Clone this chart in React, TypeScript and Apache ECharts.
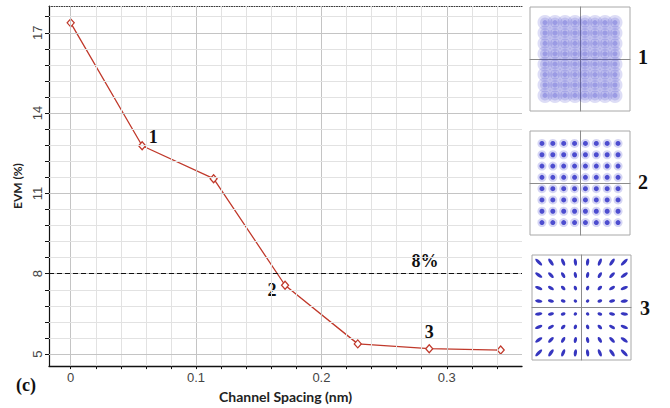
import React, { useEffect, useRef } from 'react';
import * as echarts from 'echarts';

// ---- data ----
const channelSpacing = [0, 0.057, 0.114, 0.171, 0.229, 0.286, 0.343];
const evmPercent = [17.37, 12.78, 11.55, 7.57, 5.38, 5.2, 5.15];
const pointTags = ['', '1', '', '2', '', '3', ''];
const xMajorTicks = [0, 0.1, 0.2, 0.3];
const xMinorTicks = [0, 0.02, 0.04, 0.06, 0.08, 0.1, 0.12, 0.14, 0.16, 0.18, 0.2, 0.22, 0.24, 0.26, 0.28, 0.3, 0.32, 0.34];
const yMajorTicks = [5, 8, 11, 14, 17];
const yMinorTicks = [5, 5.6, 6.2, 6.8, 7.4, 8, 8.6, 9.2, 9.8, 10.4, 11, 11.6, 12.2, 12.8, 13.4, 14, 14.6, 15.2, 15.8, 16.4, 17, 17.6];
const thresholdEvm = 8;
const thresholdLabel = '8%';
const qamLevels = [-7, -5, -3, -1, 1, 3, 5, 7];
const constellationTags = ['1', '2', '3'];

// ---- styles ----
const RED = '#c0392b';
const BLUE = '#2b2bc6';
const tagOffsets: Record<string, [number, number]> = { '1': [11, -9], '2': [-13, 5], '3': [0, -17] };

const qamPoints: number[][] = [];
qamLevels.forEach((i) => qamLevels.forEach((q) => qamPoints.push([i, q])));

function App() {
  const ref = useRef<HTMLDivElement>(null);
  useEffect(() => {
    if (!ref.current) return;
    const chart = echarts.init(ref.current, undefined, { renderer: 'svg' });

    const gridLines = [
      ...xMinorTicks.map((v) => ({
        xAxis: v,
        lineStyle: { color: xMajorTicks.includes(v) ? '#c4c4c4' : '#e2e2e2', width: 1, type: 'solid' },
      })),
      ...yMinorTicks.map((v) => ({
        yAxis: v,
        lineStyle: { color: yMajorTicks.includes(v) ? '#c4c4c4' : '#e2e2e2', width: 1, type: 'solid' },
      })),
    ];

    const consAxis = (gridIndex: number, r: number) => ({
      gridIndex,
      type: 'value',
      min: -r,
      max: r,
      axisLine: { onZero: true, lineStyle: { color: '#8c8c8c', width: 1 } },
      axisTick: { show: false },
      axisLabel: { show: false },
      splitLine: { show: false },
    });

    const ellipseData = qamPoints.map(([x, y]) => {
      const r = Math.sqrt(x * x + y * y);
      return {
        value: [x, y],
        symbolSize: [2.8 + 0.65 * r, 3.2],
        symbolRotate: (Math.atan2(y, x) * 180) / Math.PI,
      };
    });

    const boxStyle = { show: true, borderColor: '#a8a8a8', borderWidth: 1, backgroundColor: '#fff' };

    const option: any = {
      animation: false,
      backgroundColor: '#ffffff',
      grid: [
        { left: 49, top: 6, width: 473, height: 361 },
        { left: 530, top: 7, width: 100, height: 104, ...boxStyle },
        { left: 530, top: 131, width: 100, height: 104, ...boxStyle },
        { left: 532, top: 255, width: 99, height: 105, ...boxStyle },
      ],
      xAxis: [
        {
          gridIndex: 0,
          type: 'value',
          min: -0.0173,
          max: 0.36,
          name: 'Channel Spacing (nm)',
          nameLocation: 'middle',
          nameGap: 18,
          nameTextStyle: { fontFamily: 'Lato', fontWeight: 'bold', fontSize: 14, color: '#222' },
          axisLine: { onZero: false, lineStyle: { color: '#111', width: 1.3 } },
          axisTick: { show: true, customValues: xMinorTicks, length: 3, lineStyle: { color: '#111' } },
          axisLabel: {
            customValues: xMajorTicks,
            margin: 5,
            fontFamily: 'Liberation Sans',
            fontSize: 13,
            color: '#444',
            formatter: (v: number) => String(Math.round(v * 10) / 10),
          },
          splitLine: { show: false },
        },
        {
          gridIndex: 0,
          type: 'value',
          position: 'top',
          min: -0.0173,
          max: 0.36,
          axisLine: { show: true, onZero: false, lineStyle: { color: '#333', width: 1, type: [1, 1.5] } },
          axisTick: { show: false },
          axisLabel: { show: false },
          splitLine: { show: false },
        },
        {
          gridIndex: 0,
          type: 'value',
          position: 'bottom',
          min: -0.0173,
          max: 0.36,
          axisLine: { show: false, onZero: false },
          axisTick: { show: true, inside: true, customValues: xMinorTicks, length: 3, lineStyle: { color: '#111' } },
          axisLabel: { show: false },
          splitLine: { show: false },
        },
        consAxis(1, 10),
        consAxis(2, 9.2),
        consAxis(3, 8.1),
      ],
      yAxis: [
        {
          gridIndex: 0,
          type: 'value',
          min: 4.55,
          max: 18,
          name: 'EVM (%)',
          nameLocation: 'middle',
          nameGap: 24,
          nameRotate: 90,
          nameTextStyle: { fontFamily: 'Lato', fontWeight: 'bold', fontSize: 12, color: '#222' },
          axisLine: { show: true, onZero: false, lineStyle: { color: '#111', width: 1.2 } },
          axisTick: { show: true, customValues: yMinorTicks, length: 4, lineStyle: { color: '#111' } },
          axisLabel: {
            customValues: yMajorTicks,
            rotate: 90,
            margin: 5,
            fontFamily: 'Liberation Sans',
            fontSize: 13,
            color: '#444',
          },
          splitLine: { show: false },
        },
        consAxis(1, 10),
        consAxis(2, 9.2),
        consAxis(3, 8.1),
      ],
      series: [
        {
          type: 'line',
          xAxisIndex: 0,
          yAxisIndex: 0,
          data: [],
          z: 1,
          silent: true,
          markLine: { silent: true, symbol: 'none', label: { show: false }, data: gridLines, animation: false },
        },
        {
          type: 'line',
          xAxisIndex: 0,
          yAxisIndex: 0,
          z: 3,
          data: channelSpacing.map((x, i) => ({
            value: [x, evmPercent[i]],
            label: pointTags[i]
              ? {
                  show: true,
                  position: 'inside',
                  offset: tagOffsets[pointTags[i]],
                  formatter: pointTags[i],
                  fontFamily: 'Liberation Serif',
                  fontWeight: 'bold',
                  fontSize: 18,
                  color: '#111',
                }
              : { show: false },
          })),
          symbol: 'diamond',
          symbolSize: [7, 8],
          lineStyle: { color: RED, width: 1.3 },
          itemStyle: { color: '#fff', borderColor: RED, borderWidth: 1.3 },
          markLine: {
            silent: true,
            symbol: ['none', 'arrow'],
            symbolSize: [0, 7],
            label: { show: false },
            lineStyle: { color: '#111', width: 1, type: [5, 3] },
            data: [{ yAxis: thresholdEvm }],
          },
        },
        // constellation 1 (noisy cloud)
        {
          type: 'scatter', xAxisIndex: 3, yAxisIndex: 1, data: qamPoints, symbol: 'circle', symbolSize: 15,
          itemStyle: { color: BLUE, opacity: 0.16 }, silent: true,
        },
        {
          type: 'scatter', xAxisIndex: 3, yAxisIndex: 1, data: qamPoints, symbol: 'circle', symbolSize: 10,
          itemStyle: { color: BLUE, opacity: 0.16 }, silent: true,
        },
        {
          type: 'scatter', xAxisIndex: 3, yAxisIndex: 1, data: qamPoints, symbol: 'circle', symbolSize: 5,
          itemStyle: { color: BLUE, opacity: 0.25 }, silent: true,
        },
        // constellation 2 (clusters)
        {
          type: 'scatter', xAxisIndex: 4, yAxisIndex: 2, data: qamPoints, symbol: 'circle', symbolSize: 9,
          itemStyle: { color: BLUE, opacity: 0.2 }, silent: true,
        },
        {
          type: 'scatter', xAxisIndex: 4, yAxisIndex: 2, data: qamPoints, symbol: 'circle', symbolSize: 5,
          itemStyle: { color: BLUE, opacity: 0.8 }, silent: true,
        },
        // constellation 3 (phase-stretched points)
        {
          type: 'scatter', xAxisIndex: 5, yAxisIndex: 3, data: ellipseData, symbol: 'circle',
          itemStyle: { color: '#2020b8', opacity: 0.9 }, silent: true,
        },
      ],
      graphic: [
        {
          type: 'text', x: 425, y: 261,
          style: { text: thresholdLabel, font: 'bold 18px "Liberation Serif"', fill: '#111', textAlign: 'center', textVerticalAlign: 'middle' },
        },
        {
          type: 'text', x: 26, y: 385,
          style: { text: '(c)', font: 'bold 18px "Liberation Serif"', fill: '#111', textAlign: 'center', textVerticalAlign: 'middle' },
        },
        ...constellationTags.map((t, i) => ({
          type: 'text',
          x: [643, 643, 645][i],
          y: [57, 182, 308][i],
          style: { text: t, font: 'bold 20px "Liberation Serif"', fill: '#111', textAlign: 'center', textVerticalAlign: 'middle' },
        })),
      ],
    };

    chart.setOption(option);
    return () => chart.dispose();
  }, []);
  return <div ref={ref} style={{ position: 'absolute', left: 0, top: 0, width: 670, height: 408 }} />;
}

export default App;
